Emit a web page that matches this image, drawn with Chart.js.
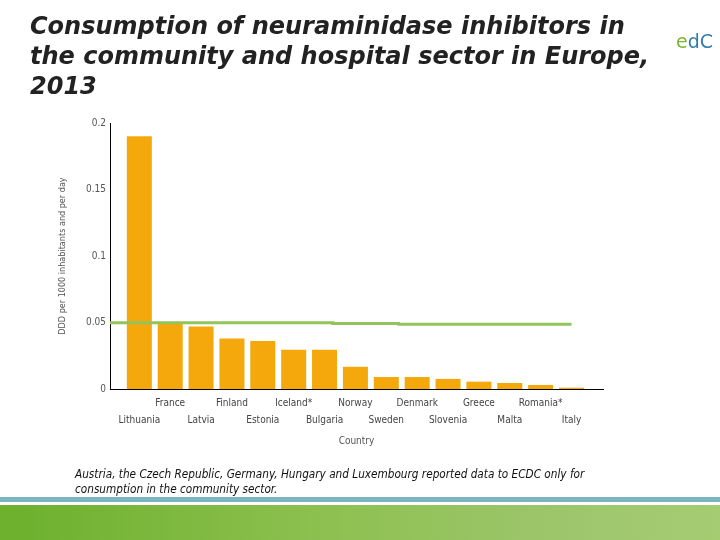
<!DOCTYPE html>
<html>
<head>
<meta charset="utf-8">
<script src="https://cdn.jsdelivr.net/npm/chart.js@4"></script>
<style>
  html, body { margin:0; padding:0; background:#fff; }
  #wrap { position:relative; width:720px; height:540px; overflow:hidden; }
  #chart { position:absolute; left:0; top:0; }
  #title { position:absolute; left:30px; top:11px; white-space:nowrap; font-family:"DejaVu Sans",sans-serif;
           font-weight:bold; font-style:italic; font-size:24px; line-height:30px; color:#222; }
  #note { position:absolute; left:75px; top:467px; white-space:nowrap; font-family:"DejaVu Sans Condensed","DejaVu Sans",sans-serif;
          font-style:italic; font-size:11.7px; line-height:15px; color:#111; }
  #stripe { position:absolute; left:0; top:497px; width:720px; height:5px; background:#7cb5bf; }
  #band { position:absolute; left:0; top:505px; width:720px; height:35px;
          background:linear-gradient(to right,#6cb02c 0%,#8dc050 45%,#9cc56a 75%,#a6cc72 100%); }
  #logo { position:absolute; left:676px; top:30px; font-family:"DejaVu Sans",sans-serif; font-size:19px; color:#2f7fa8; }
  #logo b { color:#7ab531; font-weight:normal; }
</style>
</head>
<body>
<div id="wrap">
  <canvas id="chart" width="720" height="540"></canvas>
  <div id="title">Consumption of neuraminidase inhibitors in<br>the community and hospital sector in Europe,<br>2013</div>
  <div id="logo"><b>e</b>dC</div>
  <div id="note">Austria, the Czech Republic, Germany, Hungary and Luxembourg reported data to ECDC only for<br>consumption in the community sector.</div>
  <div id="stripe"></div>
  <div id="band"></div>
</div>
<script>
let countries = ['Lithuania', 'France', 'Latvia', 'Finland', 'Estonia', 'Iceland*', 'Bulgaria',
                 'Norway', 'Sweden', 'Denmark', 'Slovenia', 'Greece', 'Malta', 'Romania*', 'Italy'];
let consumption = [0.190, 0.049, 0.047, 0.038, 0.036, 0.0295, 0.0295,
                   0.0167, 0.009, 0.009, 0.0076, 0.0055, 0.0045, 0.003, 0.001];
// EU/EEA mean line (x in category units)
let meanX = [-0.95, 6.27, 6.27, 8.4, 8.4, 14];
let meanY = [0.0498, 0.0498, 0.0492, 0.0492, 0.0487, 0.0487];
let yTicks = [0, 0.05, 0.1, 0.15, 0.2];

let tickFont = { family: '"DejaVu Sans Condensed", "DejaVu Sans", sans-serif', size: 10 };

let barPoints = countries.map((c, i) => ({ x: i, y: consumption[i] }));
let meanPoints = meanX.map((x, i) => ({ x: x, y: meanY[i] }));

var ctx = document.getElementById('chart').getContext('2d');
window.myBar = new Chart(ctx, {
  type: 'bar',
  data: {
    datasets: [
      {
        type: 'line',
        data: meanPoints,
        borderColor: '#93c35a',
        borderWidth: 3,
        pointRadius: 0,
        tension: 0,
        order: 0
      },
      {
        data: barPoints,
        backgroundColor: '#f4a80c',
        borderWidth: 0,
        barPercentage: 1,
        categoryPercentage: 0.81,
        order: 1
      }
    ]
  },
  options: {
    responsive: false,
    animation: false,
    layout: { padding: { left: 55, top: 123, right: 117, bottom: 81 } },
    plugins: { legend: { display: false }, tooltip: { enabled: false } },
    scales: {
      x: {
        type: 'linear',
        offset: false,
        min: -0.95,
        max: 15.02,
        grid: { display: false, drawTicks: false },
        border: { display: true, color: '#000', width: 1 },
        afterFit: (scale) => { scale.height = 70; },
        afterBuildTicks: (scale) => { scale.ticks = countries.map((c, i) => ({ value: i })); },
        ticks: {
          autoSkip: false,
          maxRotation: 0,
          padding: 6,
          color: '#444',
          font: Object.assign({ lineHeight: 1.7 }, tickFont),
          callback: function(value) {
            let name = countries[value];
            if (name === undefined) return '';
            return value % 2 === 0 ? ['', name] : [name];
          }
        },
        title: {
          display: true,
          text: 'Country',
          color: '#555',
          font: tickFont,
          padding: { top: 0, bottom: 12 }
        }
      },
      y: {
        min: 0,
        max: 0.2,
        grid: { display: false, drawTicks: false },
        border: { display: true, color: '#000', width: 1 },
        afterFit: (scale) => { scale.width = 55; },
        afterBuildTicks: (scale) => { scale.ticks = yTicks.map(v => ({ value: v })); },
        ticks: {
          padding: 4,
          color: '#555',
          font: tickFont,
          callback: (v) => String(+v.toFixed(2))
        },
        title: {
          display: true,
          text: 'DDD per 1000 inhabitants and per day',
          color: '#555',
          font: Object.assign({}, tickFont, { size: 9 }),
          padding: { top: 2, bottom: 0 }
        }
      }
    }
  }
});
</script>
</body>
</html>
